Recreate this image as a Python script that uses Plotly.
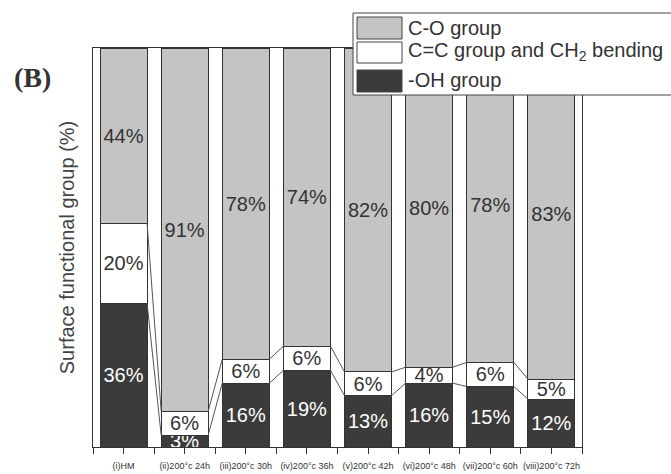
import plotly.graph_objects as go

categories = ["(i)HM", "(ii)200°c 24h", "(iii)200°c 30h", "(iv)200°c 36h",
              "(v)200°c 42h", "(vi)200°c 48h", "(vii)200°c 60h", "(viii)200°c 72h"]
oh_group = [36, 3, 16, 19, 13, 16, 15, 12]
cc_group = [20, 6, 6, 6, 6, 4, 6, 5]
co_group = [44, 91, 78, 74, 82, 80, 78, 83]

names = ["-OH group", "C=C group and CH<sub>2</sub> bending", "C-O group"]
colors = ["#3b3b3b", "#ffffff", "#c4c4c4"]
text_colors = ["#ffffff", "#333333", "#333333"]

W, H = 671, 474
L, R, T, B = 93, 582, 48, 447
BAR_W = 0.77
xs = list(range(len(categories)))

def px(x):
    return (x - L) / (R - L)

def py(y):
    return (B - y) / (B - T)

fig = go.Figure()
for vals, name, col, tcol in zip([oh_group, cc_group, co_group], names, colors, text_colors):
    fig.add_trace(go.Bar(
        x=xs, y=vals, name=name, width=BAR_W,
        marker=dict(color=col, line=dict(color="#333333", width=1)),
        text=[f"{v}%" for v in vals], textposition="inside",
        insidetextanchor="middle", constraintext="none",
        textfont=dict(family="Arial, Liberation Sans", size=20, color=tcol),
        showlegend=False, hoverinfo="skip",
    ))

# connector (series) lines between neighbouring bars
totals = [a + b + c for a, b, c in zip(oh_group, cc_group, co_group)]
lvl1 = [100 * a / t for a, t in zip(oh_group, totals)]
lvl2 = [100 * (a + b) / t for a, b, t in zip(oh_group, cc_group, totals)]
for lvl in (lvl1, lvl2):
    cx, cy = [], []
    for i in range(len(xs) - 1):
        cx += [xs[i] + BAR_W / 2, xs[i + 1] - BAR_W / 2, None]
        cy += [lvl[i], lvl[i + 1], None]
    fig.add_trace(go.Scatter(x=cx, y=cy, mode="lines",
                             line=dict(color="#555555", width=1),
                             showlegend=False, hoverinfo="skip"))

# manual legend (opaque box overlapping plot top-right)
shapes = [dict(type="rect", xref="paper", yref="paper",
               x0=px(353), x1=px(680), y0=py(95), y1=py(13),
               fillcolor="white", line=dict(color="#444444", width=1), layer="above")]
legend_rows = [("C-O group", colors[2], 17, 39, 28),
               ("C=C group and CH<sub>2</sub> bending", colors[1], 42, 63, 51),
               ("-OH group", colors[0], 70, 92, 80)]
annotations = []
for label, col, y0, y1, yc in legend_rows:
    shapes.append(dict(type="rect", xref="paper", yref="paper",
                       x0=px(357), x1=px(402), y0=py(y1), y1=py(y0),
                       fillcolor=col, line=dict(color="#444444", width=1), layer="above"))
    annotations.append(dict(xref="paper", yref="paper", x=px(406), y=py(yc),
                            text=label, showarrow=False, xanchor="left", yanchor="middle",
                            font=dict(family="Arial, Liberation Sans", size=20, color="#333333")))

annotations.append(dict(xref="paper", yref="paper", x=px(32), y=py(77), text="<b>(B)</b>",
                        showarrow=False, xanchor="center", yanchor="middle",
                        font=dict(family="Liberation Serif, Times New Roman", size=28, color="#333333")))

fig.update_layout(
    width=W, height=H, barmode="stack", barnorm="percent",
    margin=dict(l=L, r=W - R, t=T, b=H - B),
    paper_bgcolor="white", plot_bgcolor="white",
    shapes=shapes, annotations=annotations,
    xaxis=dict(range=[-0.5, len(xs) - 0.5], tickvals=xs, ticktext=categories,
               tickangle=0, automargin=False, ticklabelstandoff=4,
               ticks="outside", ticklen=6, tickcolor="#333333",
               minor=dict(dtick=0.5, tick0=-0.5, ticks="outside", ticklen=6, tickcolor="#333333"),
               tickfont=dict(family="Arial, Liberation Sans", size=9, color="#333333"),
               showline=True, linecolor="#333333", mirror=True, showgrid=False, zeroline=False),
    yaxis=dict(range=[0, 100], showticklabels=False, ticks="", showgrid=False, zeroline=False,
               showline=True, linecolor="#333333", mirror=True, automargin=False,
               title=dict(text="Surface functional group (%)", standoff=12,
                          font=dict(family="Arial, Liberation Sans", size=20, color="#444444"))),
)

fig.write_html("out.html")
